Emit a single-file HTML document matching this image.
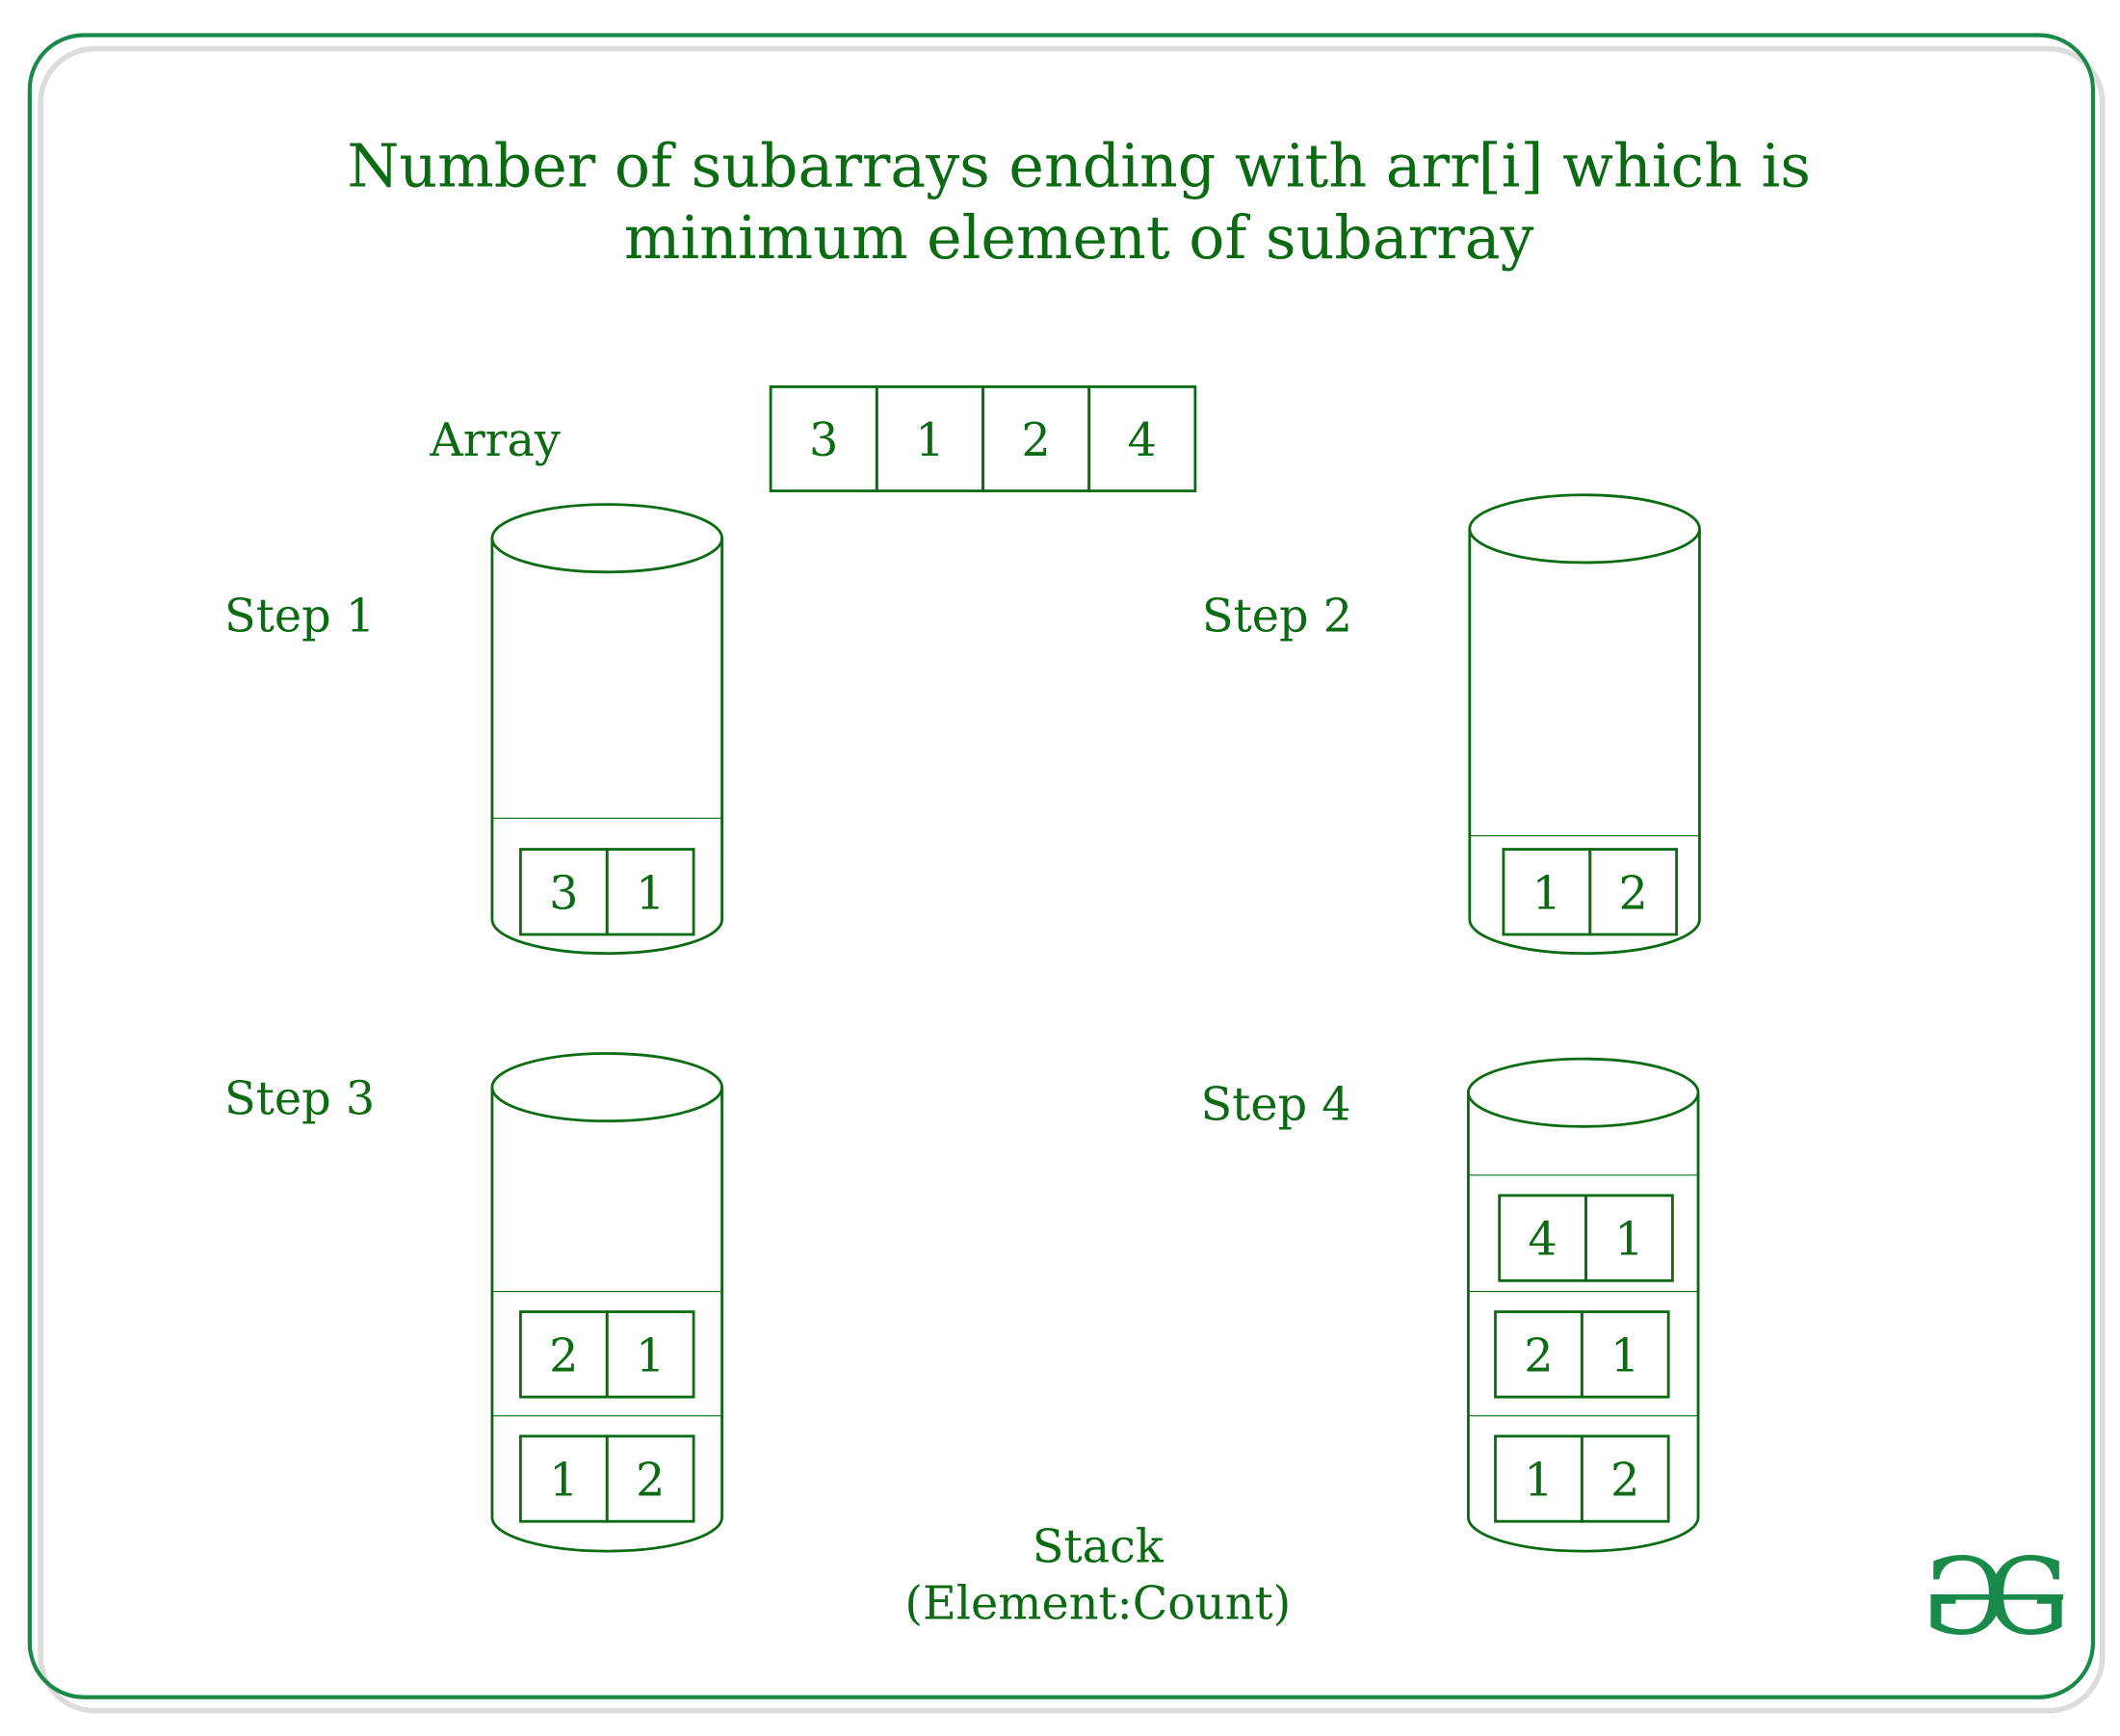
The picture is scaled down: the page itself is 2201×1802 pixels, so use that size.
<!DOCTYPE html>
<html><head><meta charset="utf-8"><style>
html,body{margin:0;padding:0;background:#fff}
svg{display:block}
text{font-family:"DejaVu Serif","Liberation Serif",serif;fill:#0b6b12}
</style></head><body>
<svg id="s" width="2201" height="1802" viewBox="0 0 1568 1283.7" preserveAspectRatio="none">
<rect x="30" y="36" width="1525" height="1229" rx="40" fill="none" stroke="#dcdcdc" stroke-width="4"/>
<rect x="22" y="26" width="1526" height="1229" rx="40" fill="none" stroke="#1a8a4a" stroke-width="3"/>
<text x="798" y="138" font-size="44" text-anchor="middle">Number of subarrays ending with arr[i] which is</text>
<text x="798" y="191" font-size="44" text-anchor="middle">minimum element of subarray</text>
<text x="318" y="337" font-size="34">Array</text>
<text x="166" y="467" font-size="34">Step 1</text>
<text x="889" y="467" font-size="34">Step 2</text>
<text x="166" y="824" font-size="34">Step 3</text>
<text x="888" y="828" font-size="34">Step 4</text>
<text x="812" y="1155" font-size="34" text-anchor="middle">Stack</text>
<text x="812" y="1197" font-size="34" text-anchor="middle">(Element:Count)</text>
<g>
<text x="1453" y="1208" font-size="78" text-anchor="middle" style="fill:#1a8a4a" transform="translate(2906,0) scale(-1,1)">G</text>
<text x="1500" y="1208" font-size="78" text-anchor="middle" style="fill:#1a8a4a">G</text>
<line x1="1428" y1="1181" x2="1526" y2="1181" stroke="#1a8a4a" stroke-width="4"/>
</g>
<g id="g"></g>
</svg>
<script>
const arrayValues=[3,1,2,4];
const step1=[[3,1]];
const step2=[[1,2]];
const step3=[[2,1],[1,2]];
const step4=[[4,1],[2,1],[1,2]];
const NS='http://www.w3.org/2000/svg';
const G=document.getElementById('g');
const C='#0b6b12';
function mk(t,a,p){const e=document.createElementNS(NS,t);for(const k in a)e.setAttribute(k,a[k]);(p||G).appendChild(e);return e;}
function txt(x,y,s,p){const e=mk('text',{x:x,y:y,'font-size':34,'text-anchor':'middle'},p);e.textContent=s;return e;}
const ag=mk('g',{});


arrayValues.forEach((v,i)=>{const w=78.5,x=570+i*w;
 const r=mk('rect',{x:x,y:286,width:w,height:77,fill:'none',stroke:C,'stroke-width':2},ag);
 
 
 txt(x+w/2,337,String(v),ag);});
function cyl(name,x,topC,bot,cells,dividers,cellX,cellY){
 const g=mk('g',{});
 
 
 const w=170,ry=25,rx=w/2,cx=x+rx;
 mk('path',{d:`M${x},${topC} L${x},${bot-ry} A${rx},${ry} 0 0 0 ${x+w},${bot-ry} L${x+w},${topC}`,fill:'none',stroke:C,'stroke-width':2},g);
 mk('ellipse',{cx:cx,cy:topC,rx:rx,ry:ry,fill:'none',stroke:C,'stroke-width':2},g);
 dividers.forEach(d=>mk('line',{x1:x,y1:d,x2:x+w,y2:d,stroke:C,'stroke-width':0.8},g));
 cells.forEach((c,i)=>{const y=cellY[i];const cxs=cellX[i];
  c.forEach((v,j)=>{const r=mk('rect',{x:cxs+j*64,y:y,width:64,height:63,fill:'none',stroke:C,'stroke-width':2},g);
   
   
   txt(cxs+j*64+32,y+44,String(v),g);});});
}
cyl('stack-step-1',364,398,705,step1,[605],[385],[628]);
cyl('stack-step-2',1087,391,705,step2,[618],[1112],[628]);
cyl('stack-step-3',364,804,1147,step3,[955,1047],[385,385],[970,1062]);
cyl('stack-step-4',1086,808,1147,step4,[869,955,1047],[1109,1106,1106],[884,970,1062]);
</script>
</body></html>
